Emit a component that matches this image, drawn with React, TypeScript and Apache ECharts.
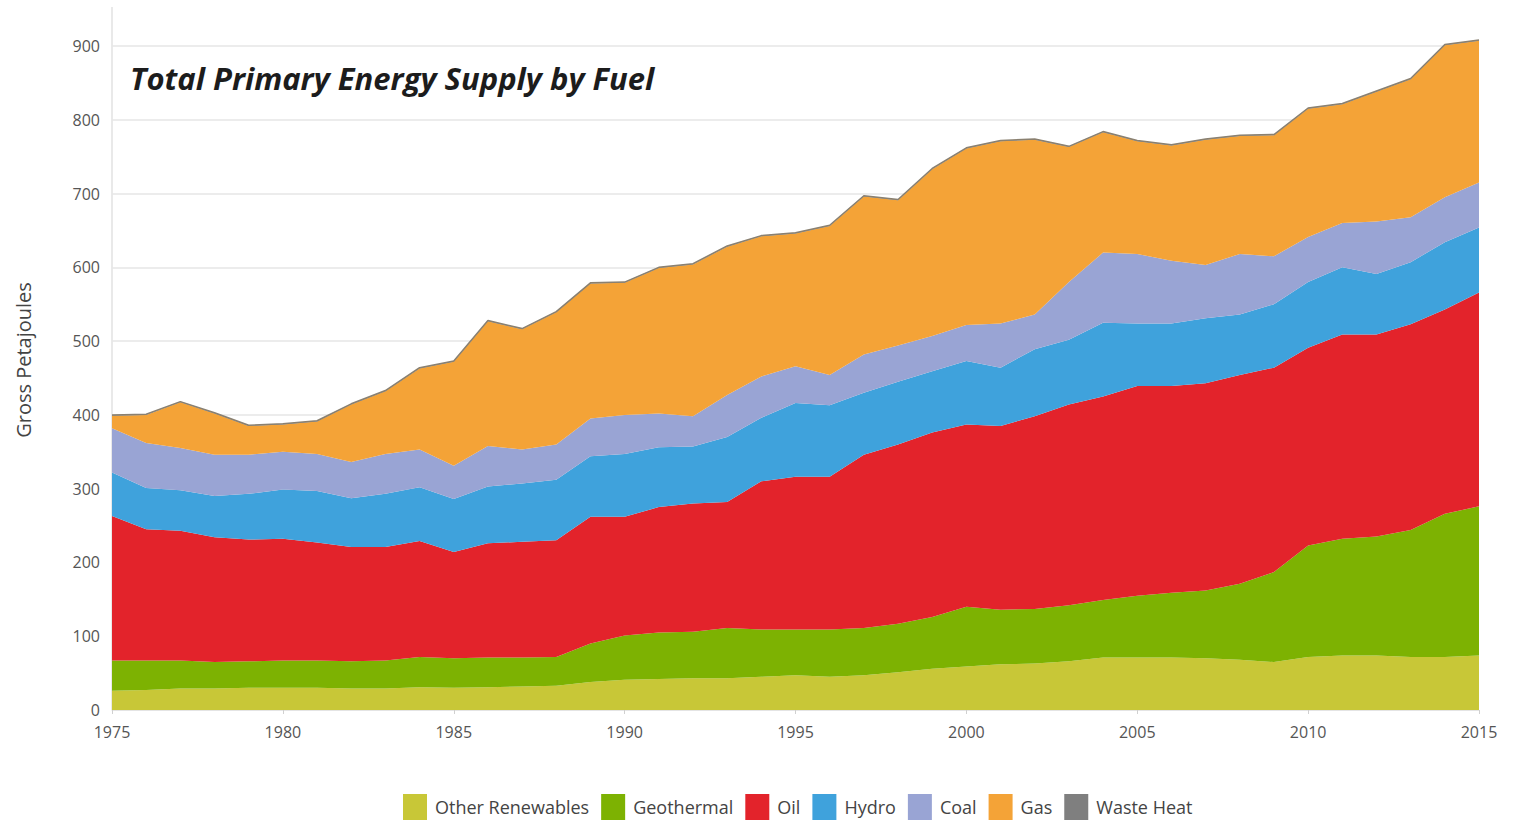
import React, { useEffect, useRef } from "react";
import * as echarts from "echarts";

const years = [
  "1975","1976","1977","1978","1979","1980","1981","1982","1983","1984",
  "1985","1986","1987","1988","1989","1990","1991","1992","1993","1994",
  "1995","1996","1997","1998","1999","2000","2001","2002","2003","2004",
  "2005","2006","2007","2008","2009","2010","2011","2012","2013","2014","2015",
];

const otherRenewables = [26,27,29,29,30,30,30,29,29,31,30,31,32,33,38,41,42,43,43,45,47,45,47,51,56,59,62,63,66,71,71,71,70,68,65,72,74,74,72,72,74];
const geothermal = [41,40,38,36,36,37,37,37,38,41,40,40,39,39,52,60,63,63,68,64,62,64,64,66,70,81,74,74,76,78,84,88,92,103,122,151,158,161,172,194,202];
const oil = [196,178,176,169,165,165,160,155,154,157,144,155,157,158,172,161,170,174,171,201,207,207,235,243,250,247,249,261,272,276,284,280,281,283,277,268,277,274,279,277,290];
const hydro = [59,56,55,56,62,67,70,66,72,73,72,77,79,82,82,85,81,77,88,86,100,97,84,85,83,86,79,91,88,100,85,85,88,82,86,89,91,82,84,91,88];
const coal = [60,61,57,56,53,51,50,49,54,51,45,55,46,48,51,53,46,41,57,56,50,41,52,49,48,49,60,47,78,95,94,85,72,82,65,61,60,71,61,61,61];
const gas = [17,38,62,56,39,37,44,78,85,110,141,169,163,179,183,179,197,206,201,190,180,202,214,197,226,239,247,237,183,163,153,156,170,160,164,174,161,176,187,206,192];
const wasteHeat = [1,1,1,1,1,1,1,1,1,1,1,1,1,1,1,1,1,1,1,1,1,1,1,1,1,1,1,1,1,1,1,1,1,1,1,1,1,1,1,1,1];

const yTicks = [0, 100, 200, 300, 400, 500, 600, 700, 800, 900];

const seriesDefs = [
  { name: "Other Renewables", data: otherRenewables, color: "#c8c737" },
  { name: "Geothermal", data: geothermal, color: "#7db202" },
  { name: "Oil", data: oil, color: "#e3232b" },
  { name: "Hydro", data: hydro, color: "#3fa2dc" },
  { name: "Coal", data: coal, color: "#99a4d4" },
  { name: "Gas", data: gas, color: "#f4a337" },
  { name: "Waste Heat", data: wasteHeat, color: "#7f7f7f" },
];

export default function App() {
  const ref = useRef<HTMLDivElement>(null);
  useEffect(() => {
    if (!ref.current) return;
    const chart = echarts.init(ref.current, undefined, { renderer: "svg" });
    const option: any = {
      animation: false,
      backgroundColor: "#ffffff",
      grid: { left: 112, right: 35, top: 46, bottom: 116, containLabel: false },
      title: {
        text: "Total Primary Energy Supply by Fuel",
        left: 125,
        top: 57,
        textStyle: {
          fontFamily: "Open Sans",
          fontStyle: "italic",
          fontWeight: "bold",
          fontSize: 31,
          color: "#1c1c1c",
        },
      },
      legend: {
        bottom: 1,
        left: 398,
        icon: "rect",
        itemWidth: 24,
        itemHeight: 26,
        itemGap: 12,
        textStyle: {
          fontFamily: "Open Sans",
          fontSize: 18,
          color: "#444",
          padding: [0, 0, 0, 3],
        },
        data: seriesDefs.map((s) => s.name),
      },
      xAxis: {
        type: "category",
        data: years,
        boundaryGap: false,
        axisLine: { show: true, lineStyle: { color: "#e4e4e4" } },
        axisTick: { show: true, interval: 4, length: 4, lineStyle: { color: "#d0d0d0" } },
        axisLabel: {
          interval: 4,
          fontFamily: "Open Sans",
          fontSize: 16,
          color: "#555",
          margin: 14,
        },
        splitLine: { show: false },
      },
      yAxis: {
        type: "value",
        min: yTicks[0],
        max: yTicks[yTicks.length - 1],
        interval: 100,
        axisLine: { show: false },
        axisTick: { show: false },
        axisLabel: { fontFamily: "Open Sans", fontSize: 16, color: "#555", margin: 12 },
        splitLine: { show: true, lineStyle: { color: "#e6e6e6", width: 1.5 } },
      },
      graphic: [
        {
          type: "line",
          shape: { x1: 112, y1: 7, x2: 112, y2: 710 },
          style: { stroke: "#e2e2e2", lineWidth: 1.5 },
          z: 0,
        },
        {
          type: "text",
          x: 23,
          y: 360,
          rotation: Math.PI / 2,
          style: {
            text: "Gross Petajoules",
            fontFamily: "Open Sans",
            fontSize: 20,
            fill: "#444",
            align: "center",
            verticalAlign: "middle",
          },
        },
      ],
      series: seriesDefs.map((s, i) => ({
        name: s.name,
        type: "line",
        stack: "total",
        data: s.data,
        clip: false,
        showSymbol: false,
        symbol: "none",
        itemStyle: { color: s.color },
        lineStyle:
          i === seriesDefs.length - 1
            ? { width: 1.5, color: "#8a8070" }
            : { width: 0 },
        areaStyle: { color: s.color, opacity: 1 },
      })),
    };
    chart.setOption(option);
    return () => chart.dispose();
  }, []);
  return (
    <div
      ref={ref}
      style={{ position: "fixed", left: 0, top: 0, width: 1514, height: 826, background: "#fff" }}
    />
  );
}
